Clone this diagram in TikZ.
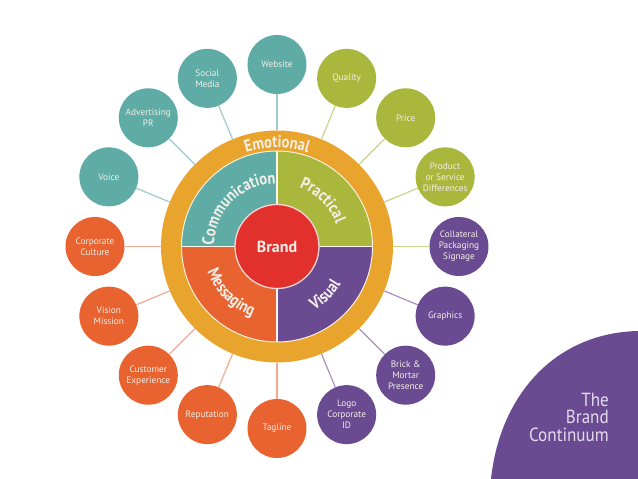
\documentclass[tikz,border=0pt]{standalone}
\usepackage{fontspec}
\setmainfont{PT Sans}
\newfontfamily\curvefont[FakeStretch=0.85]{PT Sans}
\newfontfamily\titlefont[FakeStretch=0.9]{PT Sans}
\usetikzlibrary{decorations.text}
\definecolor{tealc}{HTML}{5EACA5}
\definecolor{greenc}{HTML}{A9B73C}
\definecolor{orangec}{HTML}{E8632F}
\definecolor{purplec}{HTML}{6A4A91}
\definecolor{ringc}{HTML}{E8A42C}
\definecolor{redc}{HTML}{E2302D}
\definecolor{labc}{HTML}{F3EFE8}
\definecolor{titlec}{HTML}{E4DCEE}
\begin{document}
\begin{tikzpicture}[x=1pt,y=1pt,
  sat/.style={circle, minimum size=59pt, inner sep=0pt, align=center,
    font=\fontsize{9.3pt}{11pt}\selectfont, text=labc},
  tsat/.style={sat, fill=tealc},
  gsat/.style={sat, fill=greenc},
  osat/.style={sat, fill=orangec},
  psat/.style={sat, fill=purplec},
  tlink/.style={draw=tealc!60, line width=1.2pt},
  glink/.style={draw=greenc!60, line width=1.2pt},
  olink/.style={draw=orangec!55, line width=1.2pt},
  plink/.style={draw=purplec!60, line width=1.2pt},
  curve/.style={decorate, decoration={text along path, text align=center,
    text color=labc, text={|\curvefont\bfseries\fontsize{17pt}{17pt}\selectfont|#1}}},
  title/.style={font=\titlefont\fontsize{19pt}{19pt}\selectfont, text=titlec, anchor=base east, inner sep=0pt}
]
\fill[white] (-277,-232.5) rectangle (361,246.5);
\useasboundingbox (-277,-232.5) rectangle (361,246.5);

% corner shape
\fill[purplec] (214,-232.5) .. controls (223,-148.5) and (278,-86.5) .. (361,-84.5) -- (361,-232.5) -- cycle;
\node[title] (t1) at (332,-160.2) {The};
\node[title] (t2) at (332,-177.5) {Brand};
\node[title] (t3) at (332,-195.2) {Continuum};

% ring
\node[circle, fill=ringc, minimum size=232pt, inner sep=0pt] (ring) at (0,0) {};

% satellites
\node[tsat] (web) at (90:182) {Website};
\node[gsat] (qual) at (67.5:182) {Quality};
\node[gsat] (price) at (45:182) {Price};
\node[gsat] (prod) at (22.5:182) {Product\\or Service\\Differences};
\node[psat] (coll) at (0:182) {Collateral\\Packaging\\Signage};
\node[psat] (graph) at (-22.5:182) {Graphics};
\node[psat] (brick) at (-45:182) {Brick \&\\Mortar\\Presence};
\node[psat] (logo) at (-67.5:182) {Logo\\Corporate\\ID};
\node[osat] (tag) at (-90:182) {Tagline};
\node[osat] (rep) at (-112.5:182) {Reputation};
\node[osat] (cust) at (-135:182) {Customer\\Experience};
\node[osat] (vis) at (-157.5:182) {Vision\\Mission};
\node[osat] (corp) at (180:182) {Corporate\\Culture};
\node[tsat] (voice) at (157.5:182) {Voice};
\node[tsat] (adv) at (135:182) {Advertising\\PR};
\node[tsat] (soc) at (112.5:182) {Social\\Media};

% connectors
\foreach \n in {web,soc,adv,voice} \draw[tlink] (\n) -- (ring);
\foreach \n in {qual,price,prod,coll} \draw[glink] (\n) -- (ring);
\foreach \n in {graph,brick,logo} \draw[plink] (\n) -- (ring);
\foreach \n in {tag,rep,cust,vis,corp} \draw[olink] (\n) -- (ring);

% quadrants
\fill[tealc] (0,0) -- (180:95.5) arc[start angle=180, end angle=90, radius=95.5] -- cycle;
\fill[greenc] (0,0) -- (90:95.5) arc[start angle=90, end angle=0, radius=95.5] -- cycle;
\fill[purplec] (0,0) -- (0:95.5) arc[start angle=0, end angle=-90, radius=95.5] -- cycle;
\fill[orangec] (0,0) -- (270:95.5) arc[start angle=270, end angle=180, radius=95.5] -- cycle;
\draw[white!85!ringc, line width=1pt] (0,0) circle[radius=95.5];
\draw[white!90!ringc, line width=1.3pt] (-95.5,0) -- (95.5,0) (0,-95.5) -- (0,95.5);

% centre
\node[circle, fill=redc, draw=white!80!redc, line width=1.3pt, minimum size=84pt, inner sep=0pt,
  text=labc, font=\fontsize{16pt}{16pt}\selectfont\bfseries] (brand) at (0,0) {Brand};

% curved texts
\path[curve=Emotional] (135:99) arc[start angle=135, end angle=45, radius=99];
\path[curve=Communication] (190:63) arc[start angle=190, end angle=80, radius=63];
\path[curve=Practical] (100:63) arc[start angle=100, end angle=-10, radius=63];
\path[curve=Messaging] (170:74) arc[start angle=170, end angle=280, radius=74];
\path[curve=Visual] (260:74) arc[start angle=260, end angle=370, radius=74];
\end{tikzpicture}
\end{document}
